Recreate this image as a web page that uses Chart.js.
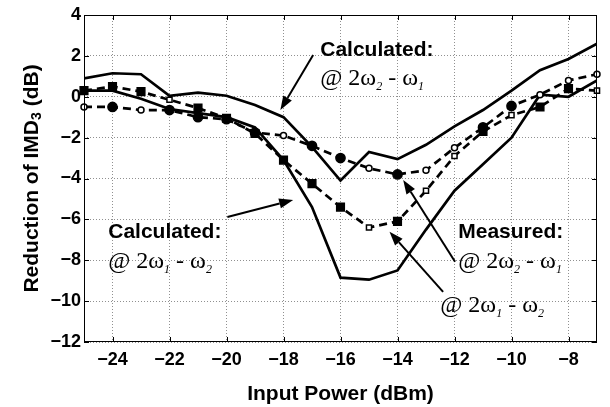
<!DOCTYPE html>
<html>
<head>
<meta charset="utf-8">
<script src="https://cdn.jsdelivr.net/npm/chart.js@4.4.1/dist/chart.umd.min.js"></script>
<style>
html, body { margin: 0; padding: 0; background: #fff; }
#wrap { width: 610px; height: 407px; }
</style>
</head>
<body>
<div id="wrap"><canvas id="chart"></canvas></div>
<script>
// input power sweep (dBm)
const inputPower = [-25, -24, -23, -22, -21, -20, -19, -18, -17, -16, -15, -14, -13, -12, -11, -10, -9, -8, -7];

// calculated reduction @ 2w2 - w1 (upper solid)
const calcUpper = [0.9, 1.15, 1.1, 0.05, 0.2, 0.05, -0.4, -1.0, -2.45, -4.1, -2.7, -3.05, -2.35, -1.45, -0.65, 0.3, 1.3, 1.85, 2.6];
// calculated reduction @ 2w1 - w2 (lower solid)
const calcLower = [0.3, 0.3, -0.1, -0.6, -0.8, -1.0, -1.5, -3.1, -5.4, -8.85, -8.95, -8.5, -6.5, -4.6, -3.3, -2.0, 0.1, 0.0, 0.8];
// measured @ 2w2 - w1 (circles)
const measUpper = [-0.5, -0.5, -0.65, -0.65, -1.0, -1.1, -1.75, -1.9, -2.4, -3.0, -3.5, -3.8, -3.6, -2.5, -1.5, -0.45, 0.1, 0.8, 1.1];
// measured @ 2w1 - w2 (squares)
const measLower = [0.3, 0.5, 0.25, -0.15, -0.55, -1.05, -1.8, -3.1, -4.25, -5.4, -6.4, -6.1, -4.6, -2.9, -1.7, -0.9, -0.5, 0.4, 0.3];

// which measured points are drawn as open markers
const circleOpen = [1, 0, 1, 0, 0, 0, 0, 1, 0, 0, 1, 0, 1, 1, 0, 0, 1, 1, 1];
const squareOpen = [0, 0, 0, 1, 0, 0, 0, 0, 0, 0, 1, 0, 1, 1, 0, 1, 0, 0, 1];

const xTicks = [-24, -22, -20, -18, -16, -14, -12, -10, -8];
const yTicks = [-12, -10, -8, -6, -4, -2, 0, 2, 4];

const minus = (v) => String(v).replace('-', '\u2212');
const pts = (ys) => ys.map((y, i) => ({ x: inputPower[i], y: y }));

// annotation texts, in data units (x, baseline y)
const boldLabels = [
    { text: 'Calculated:', x: -16.71, y: 1.99 },
    { text: 'Calculated:', x: -24.15, y: -6.93 },
    { text: 'Measured:', x: -11.87, y: -6.93 },
];
const formulas = [
    { a: '2', b: '1', x: -16.71, y: 0.58 },   // @ 2w2 - w1
    { a: '1', b: '2', x: -24.15, y: -8.38 },
    { a: '2', b: '1', x: -11.87, y: -8.38 },
    { a: '1', b: '2', x: -12.5, y: -10.52 },
];
const arrows = [
    { x1: -16.96, y1: 2.04, x2: -18.11, y2: -0.65 },
    { x1: -19.97, y1: -5.88, x2: -17.66, y2: -5.05 },
    { x1: -11.98, y1: -8.07, x2: -13.8, y2: -4.07 },
    { x1: -12.4, y1: -9.55, x2: -14.28, y2: -6.6 },
];

const SANS = '"Liberation Sans", Arial, sans-serif';
const SERIF = '"Liberation Serif", "Times New Roman", serif';

const framePlugin = {
    id: 'frame',
    afterDatasetsDraw(chart) {
        const ctx = chart.ctx;
        const a = chart.chartArea;
        const xs = chart.scales.x, ys = chart.scales.y;
        ctx.save();
        ctx.strokeStyle = '#000';
        ctx.lineWidth = 1;
        ctx.strokeRect(a.left + 0.5, a.top + 0.5, a.right - a.left - 1, a.bottom - a.top - 1);
        ctx.beginPath();
        xTicks.forEach(v => {
            const px = Math.round(xs.getPixelForValue(v)) + 0.5;
            ctx.moveTo(px, a.bottom); ctx.lineTo(px, a.bottom - 5);
            ctx.moveTo(px, a.top); ctx.lineTo(px, a.top + 5);
        });
        yTicks.forEach(v => {
            const py = Math.round(ys.getPixelForValue(v)) + 0.5;
            ctx.moveTo(a.left, py); ctx.lineTo(a.left + 5, py);
            ctx.moveTo(a.right, py); ctx.lineTo(a.right - 5, py);
        });
        ctx.stroke();
        ctx.restore();
    },
    afterDraw(chart) {
        const ctx = chart.ctx;
        const xs = chart.scales.x, ys = chart.scales.y;
        const X = (v) => xs.getPixelForValue(v);
        const Y = (v) => ys.getPixelForValue(v);
        ctx.save();
        ctx.fillStyle = '#000';
        ctx.strokeStyle = '#000';

        // bold labels
        ctx.font = 'bold 21px ' + SANS;
        ctx.textBaseline = 'alphabetic';
        ctx.textAlign = 'left';
        boldLabels.forEach(l => ctx.fillText(l.text, X(l.x), Y(l.y)));

        // formulas "@ 2w_a - w_b"
        formulas.forEach(f => {
            let cx = X(f.x);
            const by = Y(f.y);
            const main = '24px ' + SERIF;
            const sub = 'italic 12px ' + SERIF;
            const put = (t, font, dy) => {
                ctx.font = font;
                ctx.fillText(t, cx, by + dy);
                cx += ctx.measureText(t).width;
            };
            put('@ 2\u03c9', main, 0);
            put(f.a, sub, 5);
            put(' - \u03c9', main, 0);
            put(f.b, sub, 5);
        });

        // arrows
        ctx.lineWidth = 2;
        arrows.forEach(r => {
            const x1 = X(r.x1), y1 = Y(r.y1), x2 = X(r.x2), y2 = Y(r.y2);
            const ang = Math.atan2(y2 - y1, x2 - x1);
            const len = 14, half = 5;
            const bx = x2 - len * Math.cos(ang), by = y2 - len * Math.sin(ang);
            ctx.beginPath();
            ctx.moveTo(x1, y1);
            ctx.lineTo(bx, by);
            ctx.stroke();
            ctx.beginPath();
            ctx.moveTo(x2, y2);
            ctx.lineTo(bx + half * Math.sin(ang), by - half * Math.cos(ang));
            ctx.lineTo(bx - half * Math.sin(ang), by + half * Math.cos(ang));
            ctx.closePath();
            ctx.fill();
        });

        // y axis title with subscript
        const a = chart.chartArea;
        const cy = (a.top + a.bottom) / 2;
        ctx.translate(32, cy);
        ctx.rotate(-Math.PI / 2);
        ctx.textBaseline = 'middle';
        const parts = [['Reduction of IMD', 'bold 21px ' + SANS, 0], ['3', 'bold 14px ' + SANS, 5], [' (dB)', 'bold 21px ' + SANS, 0]];
        let w = 0;
        parts.forEach(p => { ctx.font = p[1]; w += ctx.measureText(p[0]).width; });
        let tx = -w / 2;
        parts.forEach(p => {
            ctx.font = p[1];
            ctx.fillText(p[0], tx, p[2]);
            tx += ctx.measureText(p[0]).width;
        });
        ctx.restore();
    }
};

const measured = (label, ys, style, open) => ({
    label: label,
    data: pts(ys),
    borderColor: '#000',
    borderWidth: 2.7,
    borderDash: [8, 5],
    pointStyle: style,
    pointRadius: open.map(o => style === 'rect' ? (o ? 3.6 : 5.4) : (o ? 3 : 4.6)),
    pointBackgroundColor: open.map(o => o ? '#fff' : '#000'),
    pointBorderColor: '#000',
    pointBorderWidth: 1.5,
    clip: false,
});

new Chart(document.getElementById('chart'), {
    type: 'line',
    data: {
        datasets: [
            measured('Measured @ 2w2-w1', measUpper, 'circle', circleOpen),
            measured('Measured @ 2w1-w2', measLower, 'rect', squareOpen),
            { label: 'Calculated @ 2w2-w1', data: pts(calcUpper), borderColor: '#000', borderWidth: 2.7, pointRadius: 0 },
            { label: 'Calculated @ 2w1-w2', data: pts(calcLower), borderColor: '#000', borderWidth: 2.7, pointRadius: 0 },
        ]
    },
    options: {
        responsive: true,
        maintainAspectRatio: false,
        animation: false,
        devicePixelRatio: 1,
        layout: { padding: { top: 15, right: 13, left: 0, bottom: 0 } },
        plugins: { legend: { display: false }, tooltip: { enabled: false } },
        scales: {
            x: {
                type: 'linear',
                min: -25,
                max: -7,
                afterBuildTicks: (s) => { s.ticks = xTicks.map(v => ({ value: v })); },
                afterFit: (s) => { s.height = 65; },
                grid: { color: '#909090', lineWidth: 1, drawTicks: false },
                border: { display: false, dash: [1, 2] },
                ticks: {
                    padding: 7,
                    color: '#000',
                    font: { family: SANS, size: 18, weight: 'bold' },
                    callback: (v) => minus(v),
                },
                title: {
                    display: true,
                    text: 'Input Power (dBm)',
                    color: '#000',
                    padding: { top: 0, bottom: 0 },
                    font: { family: SANS, size: 21, weight: 'bold' },
                },
            },
            y: {
                min: -12,
                max: 4,
                afterBuildTicks: (s) => { s.ticks = yTicks.map(v => ({ value: v })); },
                afterFit: (s) => { s.width = 84; },
                grid: { color: '#909090', lineWidth: 1, drawTicks: false },
                border: { display: false, dash: [1, 2] },
                ticks: {
                    padding: 3,
                    color: '#000',
                    font: { family: SANS, size: 18, weight: 'bold' },
                    callback: (v) => minus(v),
                },
            },
        },
    },
    plugins: [framePlugin],
});
</script>
</body>
</html>
